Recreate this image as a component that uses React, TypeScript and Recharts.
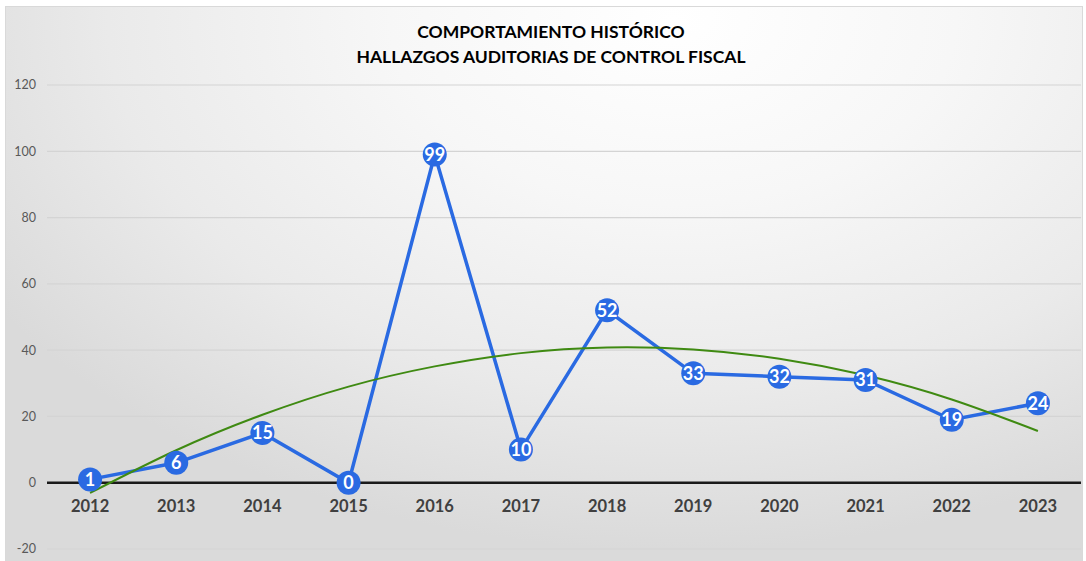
import React from "react";
import {
  ComposedChart,
  Line,
  XAxis,
  YAxis,
  CartesianGrid,
  ReferenceLine,
  LabelList,
} from "recharts";

const years = ["2012", "2013", "2014", "2015", "2016", "2017", "2018", "2019", "2020", "2021", "2022", "2023"];
const hallazgos = [1, 6, 15, 0, 99, 10, 52, 33, 32, 31, 19, 24];
const tendencia = [-3.1, 9.8, 20.5, 29.0, 35.1, 39.1, 40.8, 40.2, 37.4, 32.4, 25.1, 15.6];
const yTicks = [-20, 0, 20, 40, 60, 80, 100, 120];

const data = years.map((y, i) => ({ year: y, value: hallazgos[i], trend: tendencia[i] }));

const BLUE = "#2A6AE2";
const GREEN = "#3F8A12";
const FONT = "Lato, 'Open Sans', sans-serif";

const Dot = (props: any) => {
  const { cx, cy } = props;
  if (cx == null || cy == null) return null;
  return <circle cx={cx} cy={cy} r={12} fill={BLUE} stroke="none" />;
};

export default function App() {
  return (
    <div style={{ position: "absolute", left: 0, top: 0, width: 1086, height: 561, background: "#fff", overflow: "hidden" }}>
      <div
        style={{
          position: "absolute",
          left: 5,
          top: 6,
          width: 1076,
          height: 560,
          border: "1px solid #d9d9d9",
          background: "radial-gradient(ellipse 75% 95% at 62% 2%, #ffffff 0%, #f7f7f7 35%, #eaeaea 70%, #dadada 100%)",
        }}
      />
      <div
        style={{
          position: "absolute",
          left: 0,
          top: 19,
          width: 1102,
          textAlign: "center",
          fontFamily: FONT,
          fontWeight: 700,
          fontSize: 17.5,
          lineHeight: "25px",
          color: "#000",
        }}
      >
        <div>COMPORTAMIENTO HISTÓRICO</div>
        <div>HALLAZGOS AUDITORIAS DE CONTROL FISCAL</div>
      </div>
      <div style={{ position: "absolute", left: 0, top: 0 }}>
        <ComposedChart width={1086} height={561} data={data} margin={{ top: 85, right: 5, bottom: 12, left: 0 }}>
          <CartesianGrid vertical={false} stroke="#d4d4d4" strokeWidth={1.2} />
          <XAxis dataKey="year" hide scale="band" />
          <YAxis
            width={47}
            domain={[-20, 120]}
            ticks={yTicks}
            axisLine={false}
            tickLine={false}
            tickMargin={5}
            tick={{ fill: "#595959", fontSize: 12.5, fontFamily: FONT }}
            interval={0}
          />
          <ReferenceLine y={0} stroke="#1a1a1a" strokeWidth={2.5} />
          <Line
            dataKey={() => 0}
            stroke="none"
            dot={false}
            activeDot={false}
            isAnimationActive={false}
            legendType="none"
          >
            <LabelList
              dataKey="year"
              position="bottom"
              offset={18}
              fill="#404040"
              fontSize={16.5}
              fontWeight={700}
              fontFamily={FONT}
            />
          </Line>
          <Line
            dataKey="value"
            stroke={BLUE}
            strokeWidth={3.5}
            type="linear"
            dot={<Dot />}
            activeDot={false}
            isAnimationActive={false}
          >
            <LabelList
              dataKey="value"
              position="center"
              fill="#ffffff"
              fontSize={18}
              fontWeight={700}
              fontFamily={FONT}
            />
          </Line>
          <Line
            dataKey="trend"
            stroke={GREEN}
            strokeWidth={2}
            type="natural"
            dot={false}
            activeDot={false}
            isAnimationActive={false}
          />
        </ComposedChart>
      </div>
    </div>
  );
}
